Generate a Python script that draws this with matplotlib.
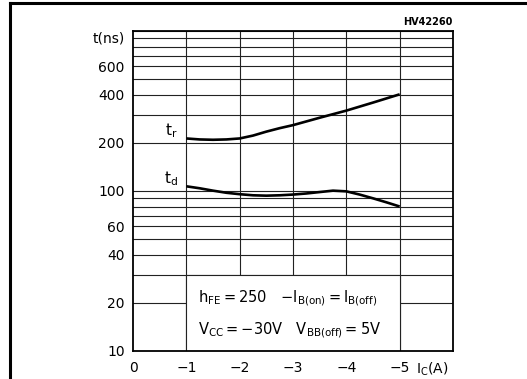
"""
Switching times t_r / t_d versus collector current (datasheet style chart).
"""

import matplotlib
matplotlib.use("Agg")
import matplotlib.pyplot as plt
import matplotlib.patches as mpatches
from matplotlib.lines import Line2D
from matplotlib.transforms import blended_transform_factory

# data
ic_tr = [-1, -1.25, -1.5, -1.75, -2, -2.25, -2.5, -2.75, -3, -3.5, -4, -4.5, -5]
t_r = [213, 210, 209, 210, 213, 222, 235, 247, 258, 287, 318, 357, 402]

ic_td = [-1, -1.25, -1.5, -1.75, -2, -2.25, -2.5, -2.75, -3, -3.25, -3.5,
         -3.75, -4, -4.25, -4.5, -4.75, -5]
t_d = [107, 104, 100.5, 97.5, 95.5, 94, 93.5, 94, 95, 96.5, 98.5,
       100.5, 99.5, 95, 90, 85, 80]

x_ticks = [0, -1, -2, -3, -4, -5]
x_labels = ["0", "\u22121", "\u22122", "\u22123", "\u22124", "\u22125"]
y_ticks = [10, 20, 40, 60, 100, 200, 400, 600]
y_labels = ["10", "20", "40", "60", "100", "200", "400", "600"]
h_grid = [20, 30, 40, 50, 60, 70, 80, 90, 100,
          200, 300, 400, 500, 600, 700, 800, 900, 1000]
v_grid = [-1, -2, -3, -4, -5]

_FONT = 10
_GRID_LW = 0.8
_CURVE_LW = 1.9

fig = plt.figure(figsize=(5.27, 3.79), dpi=100)
fig.patch.set_facecolor("white")
ax = fig.add_axes([133 / 527, 28 / 379, 320 / 527, 320 / 379])

ax.set_yscale("log")
ax.set_xlim(0, -6)
ax.set_ylim(10, 1000)

for y in h_grid:
    ax.axhline(y, color="#222222", lw=_GRID_LW, zorder=1)
for x in v_grid:
    ax.axvline(x, color="#222222", lw=_GRID_LW, zorder=1)

# white box holding the test conditions
box = mpatches.Rectangle((-1, 10), -4, 20, facecolor="white",
                         edgecolor="#222222", lw=_GRID_LW, zorder=2)
ax.add_patch(box)

ax.plot(ic_tr, t_r, color="black", lw=_CURVE_LW, zorder=3,
        solid_capstyle="butt")
ax.plot(ic_td, t_d, color="black", lw=_CURVE_LW, zorder=3,
        solid_capstyle="butt")

ax.text(-0.72, 238, r"$\mathregular{t_r}$", fontsize=_FONT + 1,
        ha="center", va="center")
ax.text(-0.72, 119, r"$\mathregular{t_d}$", fontsize=_FONT + 1,
        ha="center", va="center")

ax.text(-1.22, 21.4,
        r"$\mathregular{h_{FE}=250\quad {-}I_{B(on)}=I_{B(off)}}$",
        fontsize=_FONT + 0.5, ha="left", va="center", zorder=4)
ax.text(-1.22, 13.5,
        r"$\mathregular{V_{CC}=-30V\quad V_{BB(off)}=5V}$",
        fontsize=_FONT + 0.5, ha="left", va="center", zorder=4)

ax.set_xticks(x_ticks)
ax.set_xticklabels(x_labels)
ax.set_yticks(y_ticks)
ax.set_yticklabels(y_labels)
ax.yaxis.set_minor_locator(plt.NullLocator())
ax.tick_params(length=0, labelsize=_FONT)
ax.tick_params(axis="y", pad=6)
ax.tick_params(axis="x", pad=7)

ax.annotate("t(ns)", xy=(0, 900), xytext=(-6, 0), textcoords="offset points",
            ha="right", va="center", fontsize=_FONT)
trans = blended_transform_factory(ax.transData, ax.transAxes)
ax.annotate(r"$\mathregular{I_C(A)}$", xy=(-5.3, 0), xycoords=trans,
            xytext=(0, -7), textcoords="offset points",
            ha="left", va="top", fontsize=_FONT)

for s in ax.spines.values():
    s.set_linewidth(1.3)

fig.text(453 / 527, 1 - 22 / 379, "HV42260", fontsize=7, fontweight="bold",
         ha="right", va="center")

# outer frame: top and left rules
fig.add_artist(Line2D([10 / 527, 1], [1 - 3 / 379, 1 - 3 / 379],
                      color="black", lw=2.2))
fig.add_artist(Line2D([10 / 527, 10 / 527], [0, 1 - 3 / 379],
                      color="black", lw=2.2))

fig.savefig("out.png", dpi=100, facecolor="white")
